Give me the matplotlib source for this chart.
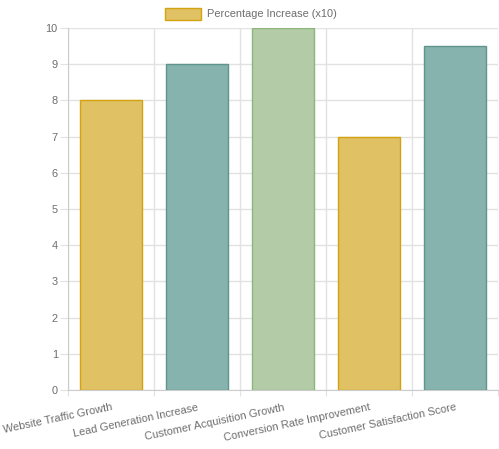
import matplotlib
matplotlib.use("Agg")
import matplotlib.pyplot as plt
from matplotlib.patches import Rectangle

categories = [
    "Website Traffic Growth",
    "Lead Generation Increase",
    "Customer Acquisition Growth",
    "Conversion Rate Improvement",
    "Customer Satisfaction Score",
]
values = [8, 9, 10, 7, 9.5]
fill_colors = ["#e0c265", "#86b3ad", "#b3cca7", "#e0c265", "#86b3ad"]
edge_colors = ["#d4a20f", "#5f958a", "#8ab67c", "#d4a20f", "#5f958a"]
legend_label = "Percentage Increase (x10)"
y_ticks = list(range(0, 11))

plt.rcParams["font.family"] = ["Liberation Sans", "DejaVu Sans"]
text_color = "#6e6e6e"
grid_color = "#e2e2e2"
fs = 7.9

fig = plt.figure(figsize=(4.99, 4.49), dpi=100)
ax = fig.add_axes([68 / 499, 1 - 390 / 449, 430 / 499, 362 / 449])

x = list(range(len(categories)))
ax.bar(x, values, width=0.72, color=fill_colors, edgecolor=edge_colors,
       linewidth=1, zorder=3)

ax.set_xlim(-0.5, len(categories) - 0.5)
ax.set_ylim(0, 10)
ax.set_yticks(y_ticks)
ax.set_yticklabels([str(t) for t in y_ticks], fontsize=fs, color=text_color)

# vertical grid at category boundaries, labels at centres
ax.set_xticks([i - 0.5 for i in range(len(categories) + 1)], minor=False)
ax.set_xticklabels([""] * (len(categories) + 1))
ax.set_xticks(x, minor=True)
ax.set_xticklabels(categories, minor=True, rotation=12, ha="right", va="top",
                   rotation_mode="anchor", fontsize=fs, color=text_color)
ax.tick_params(axis="x", which="minor", length=0, pad=9)
ax.tick_params(axis="x", which="major", length=4.5, color=grid_color)
ax.tick_params(axis="y", length=5.8, color=grid_color, pad=1.5)

ax.grid(True, which="major", color=grid_color, linewidth=1, zorder=0)
for side in ["top", "right"]:
    ax.spines[side].set_visible(False)
for side in ["left", "bottom"]:
    ax.spines[side].set_color("#cccccc")

# legend drawn like Chart.js
fig.patches.append(Rectangle((165 / 499, 1 - 20 / 449), 36 / 499, 12 / 449,
                             transform=fig.transFigure, facecolor=fill_colors[0],
                             edgecolor=edge_colors[0], linewidth=1))
fig.text(207 / 499, 1 - 14 / 449, legend_label, fontsize=fs,
         color=text_color, va="center", ha="left")

fig.savefig("out.png", dpi=100)
